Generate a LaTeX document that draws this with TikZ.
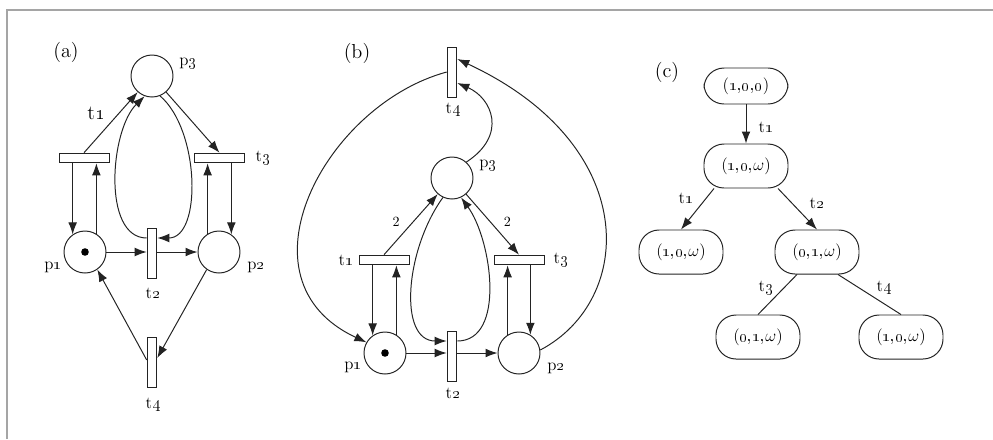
\documentclass[tikz,border=0pt]{standalone}
\usepackage{amsmath,amssymb}
\usepackage{xcolor}
\usepackage{tikz}
\usetikzlibrary{arrows.meta,calc}
\definecolor{pnline}{RGB}{35,35,35}
\definecolor{pnframe}{RGB}{165,165,165}
\newcommand{\os}[1]{\oldstylenums{#1}}

\begin{document}
\begin{tikzpicture}[x=0.25mm,y=-0.25mm,font=\large,
  place/.style={circle,draw=pnline,line width=0.7pt,minimum size=10.5mm,inner sep=0pt},
  htrans/.style={rectangle,draw=pnline,line width=0.7pt,minimum width=12.5mm,minimum height=2.4mm,inner sep=0pt},
  vtrans/.style={rectangle,draw=pnline,line width=0.7pt,minimum width=2.4mm,minimum height=12.5mm,inner sep=0pt},
  token/.style={circle,fill=black,minimum size=1.9mm,inner sep=0pt},
  state/.style={rectangle,rounded corners=5mm,draw=pnline,line width=0.7pt,minimum width=21mm,minimum height=11mm,inner sep=0pt},
  arc/.style={draw=pnline,line width=0.7pt,-{Latex[length=3mm,width=2.2mm]}},
  plain/.style={draw=pnline,line width=0.7pt}]
\useasboundingbox (0,0) rectangle (993,439);
% frame, only top and left edges show
\draw[pnframe,line width=0.5mm] (7,439) -- (7,10) -- (993,10);

% (a)
\node[font=\Large] (a-tag) at (66,52) {(a)};
\node[place] (a-p3) at (152,76) {};
\node[place] (a-p1) at (85,252) {};
\node[place] (a-p2) at (219,252) {};
\node[htrans] (a-t1) at (84,158) {};
\node[htrans] (a-t3) at (219.5,158) {};
\node[vtrans] (a-t2) at (152,253) {};
\node[vtrans] (a-t4) at (152,362) {};
\node[token] (a-tok) at (a-p1) {};
\node (a-lp3) at (188,63) {p\os{3}};
\node (a-lp1) at (53,267) {p\os{1}};
\node (a-lp2) at (256,267) {p\os{2}};
\node[font=\Large] (a-lt1) at (96,113) {t\os{1}};
\node (a-lt3) at (263,158) {t\os{3}};
\node (a-lt2) at (153,293) {t\os{2}};
\node (a-lt4) at (153,405) {t\os{4}};
\draw[arc] (a-t1.north) -- (a-p3);
\draw[arc] (a-p3) -- (a-t3.north);
\draw[arc] (a-t1.south -| a-p1.125) -- (a-p1.125);
\draw[arc] (a-p1.58) -- (a-p1.58 |- a-t1.south);
\draw[arc] (a-t3.south -| a-p2.55) -- (a-p2.55);
\draw[arc] (a-p2.122) -- (a-p2.122 |- a-t3.south);
\draw[arc] (a-p1) -- (a-p1 -| a-t2.west);
\draw[arc] (a-p1 -| a-t2.east) -- (a-p2);
\draw[arc] ($(a-t2.west)+(0,-15)$) .. controls (102,238) and (110,130) .. (a-p3.250);
\draw[arc] (a-p3.292) .. controls (200,130) and (202,238) .. ($(a-t2.east)+(0,-15)$);
\draw[arc] (a-p2.235) -- ($(a-t4.east)+(0,-4)$);
\draw[arc] ($(a-t4.west)+(0,-2)$) -- (a-p1.-55);

% (b)
\node[font=\Large] (b-tag) at (357,53) {(b)};
\node[vtrans] (b-t4) at (452,72) {};
\node[place] (b-p3) at (452,178) {};
\node[htrans] (b-t1) at (384,260) {};
\node[htrans] (b-t3) at (519,260) {};
\node[place] (b-p1) at (385,353) {};
\node[place] (b-p2) at (519,353) {};
\node[vtrans] (b-t2) at (452,356) {};
\node[token] (b-tok) at (b-p1) {};
\node (b-lt4) at (453,110) {t\os{4}};
\node (b-lp3) at (488,165) {p\os{3}};
\node (b-lt1) at (346,260) {t\os{1}};
\node (b-lt3) at (561,260) {t\os{3}};
\node (b-lp1) at (353,367) {p\os{1}};
\node (b-lp2) at (556,368) {p\os{2}};
\node (b-lt2) at (453,393) {t\os{2}};
\draw[arc] (b-t1.north) -- node[pos=0.55,left=2.2mm,font=\normalsize] {2} (b-p3);
\draw[arc] (b-p3) -- node[pos=0.45,right=2.2mm,font=\normalsize] {2} (b-t3.north);
\draw[arc] (b-t1.south -| b-p1.125) -- (b-p1.125);
\draw[arc] (b-p1.58) -- (b-p1.58 |- b-t1.south);
\draw[arc] (b-t3.south -| b-p2.58) -- (b-p2.58);
\draw[arc] (b-p2.122) -- (b-p2.122 |- b-t3.south);
\draw[arc] (b-p1) -- (b-p1 -| b-t2.west);
\draw[arc] (b-p1 -| b-t2.east) -- (b-p2);
\draw[arc] (b-p3.245) .. controls (405,250) and (398,341) .. ($(b-t2.west)+(0,-15)$);
\draw[arc] ($(b-t2.east)+(0,-15)$) .. controls (506,341) and (492,240) .. (b-p3.-65);
\draw[arc] (b-p3.48) .. controls (508,135) and (492,98) .. ($(b-t4.east)+(0,11)$);
\draw[arc] (b-p2.8) .. controls (635,300) and (642,145) .. ($(b-t4.east)+(0,-13)$);
\draw[arc] (b-t4.west) .. controls (325,105) and (232,280) .. (b-p1.150);

% (c) coverability tree
\node[font=\Large] (c-tag) at (667,72) {(c)};
\node[state,minimum height=9mm] (c-s0) at (746,86) {(\os{1,0,0})};
\node[state] (c-s1) at (746,166) {(\os{1,0,}$\omega$)};
\node[state] (c-s2) at (681,252) {(\os{1,0,}$\omega$)};
\node[state] (c-s3) at (817,252) {(\os{0,1,}$\omega$)};
\node[state] (c-s4) at (758,337) {(\os{0,1,}$\omega$)};
\node[state] (c-s5) at (901,337) {(\os{1,0,}$\omega$)};
\draw[arc] (c-s0) -- (c-s1);
\node (c-l1) at (766,127) {t\os{1}};
\draw[arc] ([xshift=-8mm]c-s1.south) -- (c-s2.north);
\node (c-l2) at (686,198) {t\os{1}};
\draw[arc] ([xshift=8mm]c-s1.south) -- (c-s3.north);
\node (c-l3) at (817,203) {t\os{2}};
\draw[plain] ([xshift=-5mm]c-s3.south) -- (c-s4.north);
\node (c-l4) at (766,288) {t\os{3}};
\draw[plain] ([xshift=5.25mm]c-s3.south) -- (c-s5.north);
\node (c-l5) at (884,288) {t\os{4}};
\end{tikzpicture}
\end{document}
